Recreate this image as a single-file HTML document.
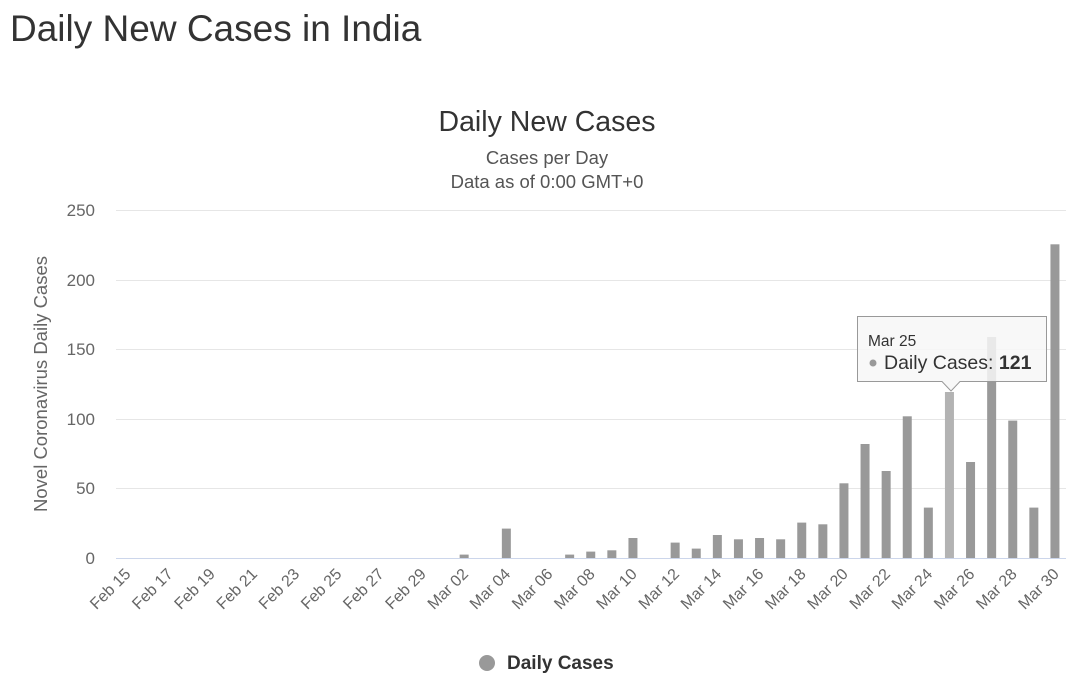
<!DOCTYPE html>
<html><head><meta charset="utf-8"><style>
body{margin:0;background:#fff;width:1080px;height:687px;overflow:hidden;font-family:"Liberation Sans",sans-serif}
</style></head><body>
<svg width="1080" height="687" xmlns="http://www.w3.org/2000/svg" font-family="Liberation Sans, sans-serif">
<text x="10" y="41" font-size="37" fill="#333">Daily New Cases in India</text>
<text x="547" y="131" font-size="28.5" fill="#333" text-anchor="middle">Daily New Cases</text>
<text x="547" y="164" font-size="18.5" fill="#555" text-anchor="middle">Cases per Day</text>
<text x="547" y="188" font-size="18.5" fill="#555" text-anchor="middle">Data as of 0:00 GMT+0</text>
<g stroke="#e6e6e6" stroke-width="1">
<line x1="116" x2="1066" y1="210.5" y2="210.5"/><line x1="116" x2="1066" y1="280.5" y2="280.5"/>
<line x1="116" x2="1066" y1="349.5" y2="349.5"/><line x1="116" x2="1066" y1="419.5" y2="419.5"/>
<line x1="116" x2="1066" y1="488.5" y2="488.5"/>
</g>
<line x1="116" x2="1066" y1="558.5" y2="558.5" stroke="#ccd6eb"/>
<g font-size="17" fill="#666" text-anchor="end">
<text x="95" y="216">250</text><text x="95" y="286">200</text><text x="95" y="355">150</text>
<text x="95" y="425">100</text><text x="95" y="494">50</text><text x="95" y="564">0</text>
</g>
<text transform="translate(47,384) rotate(-90)" font-size="18.5" fill="#666" text-anchor="middle">Novel Coronavirus Daily Cases</text>
<g id="bars" fill="#999"></g>
<g id="labels" font-size="16" fill="#666" text-anchor="end"></g>
<g>
<path d="M857.5 316.5 H1046.5 V381.5 H960 L951 391 L942 381.5 H857.5 Z" fill="rgba(247,247,247,0.85)" stroke="#999" stroke-width="1"/>
<text x="868" y="346" font-size="15.5" fill="#333">Mar 25</text>
<circle cx="873" cy="363" r="3.5" fill="#999"/>
<text x="884" y="369" font-size="19.5" fill="#333">Daily Cases: <tspan font-weight="bold">121</tspan></text>
</g>
<circle cx="487" cy="663" r="8" fill="#999"/>
<text x="507" y="669" font-size="19" font-weight="bold" fill="#333">Daily Cases</text>
</svg>
<script>
var h={16:3.4,18:29.4,21:3.4,22:6.4,23:7.7,24:20,26:15.4,27:9.4,28:23,29:18.7,30:20,31:18.7,32:35.4,33:33.7,34:74.7,35:114,36:87,37:141.7,38:50.4,39:166,40:96,41:221,42:137.4,43:50.4,44:313.7};
var ns="http://www.w3.org/2000/svg",b=document.getElementById('bars'),l=document.getElementById('labels');
var names=[];for(var d=15;d<=29;d++)names.push('Feb '+d);for(var d=1;d<=30;d++)names.push('Mar '+(d<10?'0'+d:d));
for(var i=0;i<45;i++){var cx=116+21.1*(i+0.5);
 if(h[i]){var r=document.createElementNS(ns,'rect');r.setAttribute('x',cx-4.5);r.setAttribute('width',9);r.setAttribute('y',558-h[i]);r.setAttribute('height',h[i]);if(i==39)r.setAttribute('fill','#b3b3b3');b.appendChild(r);}
 if(i%2==0){var t=document.createElementNS(ns,'text');t.setAttribute('transform','translate('+(cx+5)+',575) rotate(-45)');t.textContent=names[i];l.appendChild(t);}
}
</script>
</body></html>
